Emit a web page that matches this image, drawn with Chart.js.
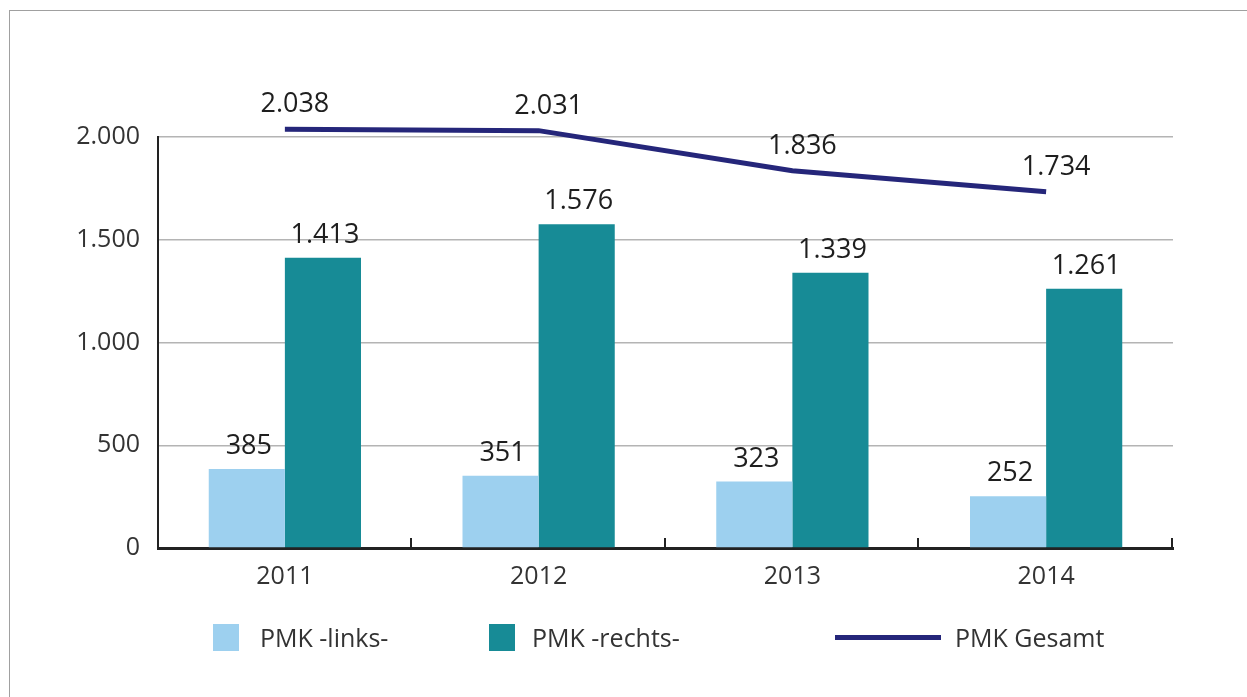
<!DOCTYPE html>
<html>
<head>
<meta charset="utf-8">
<script src="https://cdn.jsdelivr.net/npm/chart.js@4"></script>
<style>
body{margin:0;background:#fff;font-family:"Open Sans",sans-serif}
#wrap{position:relative;width:1247px;height:697px;overflow:hidden}
#frame{position:absolute;left:9px;top:10px;width:1300px;height:800px;border-top:1px solid #a0a0a0;border-left:1px solid #a0a0a0}
#c{position:absolute;left:0;top:0}
.box{position:absolute;top:624px;width:26px;height:27px}
.txt{position:absolute;top:619px;font-size:25px;line-height:36px;color:#333}
</style>
</head>
<body>
<div id="wrap">
  <div id="frame"></div>
  <canvas id="c" width="1247" height="697"></canvas>
  <div class="box" style="left:213px;background:#9dd0ef"></div>
  <div class="txt" style="left:260px">PMK -links-</div>
  <div class="box" style="left:489px;background:#178b96"></div>
  <div class="txt" style="left:532px">PMK -rechts-</div>
  <div style="position:absolute;left:835px;top:635px;width:106px;height:5px;background:#25267a"></div>
  <div class="txt" style="left:955px">PMK Gesamt</div>
</div>
<script>
// data
var years = ['2011', '2012', '2013', '2014']
var pmk_links = [385, 351, 323, 252]
var pmk_rechts = [1413, 1576, 1339, 1261]
var pmk_gesamt = [2038, 2031, 1836, 1734]
var y_ticks = [0, 500, 1000, 1500, 2000]

function fmt(v){
    // german thousands separator
    return String(v).replace(/\B(?=(\d{3})+(?!\d))/g, '.')
}

// value labels above bars and line points
var valueLabels = {
    id: 'valueLabels',
    afterDatasetsDraw: function(chart){
        var ctx = chart.ctx
        ctx.save()
        ctx.fillStyle = '#1e1e1e'
        ctx.font = '27px "Open Sans"'
        ctx.textAlign = 'center'
        ctx.textBaseline = 'alphabetic'
        chart.data.datasets.forEach(function(ds, i){
            var meta = chart.getDatasetMeta(i)
            meta.data.forEach(function(el, j){
                var text = fmt(ds.data[j])
                if (ds.type == 'line'){
                    ctx.fillText(text, el.x + 10, el.y - 17)
                } else {
                    ctx.fillText(text, el.x + 2, el.y - 15)
                }
            })
        })
        ctx.restore()
    }
}

// small upward tick marks between categories on the x axis
var axisTicks = {
    id: 'axisTicks',
    afterDraw: function(chart){
        var xs = chart.scales.x
        var ctx = chart.ctx
        var step = (xs.right - xs.left) / years.length
        ctx.save()
        ctx.strokeStyle = '#222'
        ctx.lineWidth = 2
        for (var i = 1; i <= years.length; i++){
            var x = Math.round(xs.left + i * step) - 1
            ctx.beginPath()
            ctx.moveTo(x, xs.top)
            ctx.lineTo(x, xs.top - 10)
            ctx.stroke()
        }
        ctx.restore()
    }
}

var chart = new Chart(document.getElementById('c'), {
    data: {
        labels: years,
        datasets: [
            {
                type: 'line',
                label: 'PMK Gesamt',
                data: pmk_gesamt,
                borderColor: '#25267a',
                borderWidth: 5,
                pointRadius: 0,
                tension: 0,
                clip: false,
                order: 0
            },
            {
                type: 'bar',
                label: 'PMK -links-',
                data: pmk_links,
                backgroundColor: '#9dd0ef',
                categoryPercentage: 0.6,
                barPercentage: 1.0,
                order: 1
            },
            {
                type: 'bar',
                label: 'PMK -rechts-',
                data: pmk_rechts,
                backgroundColor: '#178b96',
                categoryPercentage: 0.6,
                barPercentage: 1.0,
                order: 1
            }
        ]
    },
    options: {
        responsive: false,
        animation: false,
        layout: { padding: { top: 137, right: 74, left: 0, bottom: 0 } },
        plugins: {
            legend: { display: false },
            tooltip: { enabled: false }
        },
        scales: {
            x: {
                offset: true,
                grid: { display: false, drawTicks: false },
                border: { display: true, color: '#222', width: 3 },
                ticks: { font: { size: 25, family: 'Open Sans' }, color: '#333', padding: 14 },
                afterFit: function(scale){ scale.height = 697 - 548 }
            },
            y: {
                min: 0,
                max: 2000,
                afterBuildTicks: function(scale){
                    scale.ticks = y_ticks.map(function(v){ return { value: v } })
                },
                ticks: {
                    callback: function(v){ return fmt(v) },
                    font: { size: 25, family: 'Open Sans' },
                    color: '#333',
                    padding: 18
                },
                grid: {
                    color: function(c){ return c.tick && c.tick.value == 0 ? 'rgba(0,0,0,0)' : '#b4b4b4' },
                    lineWidth: 1.5,
                    drawTicks: false
                },
                border: { display: true, color: '#222', width: 2 },
                afterFit: function(scale){ scale.width = 158 }
            }
        }
    },
    plugins: [valueLabels, axisTicks]
})
</script>
</body>
</html>
